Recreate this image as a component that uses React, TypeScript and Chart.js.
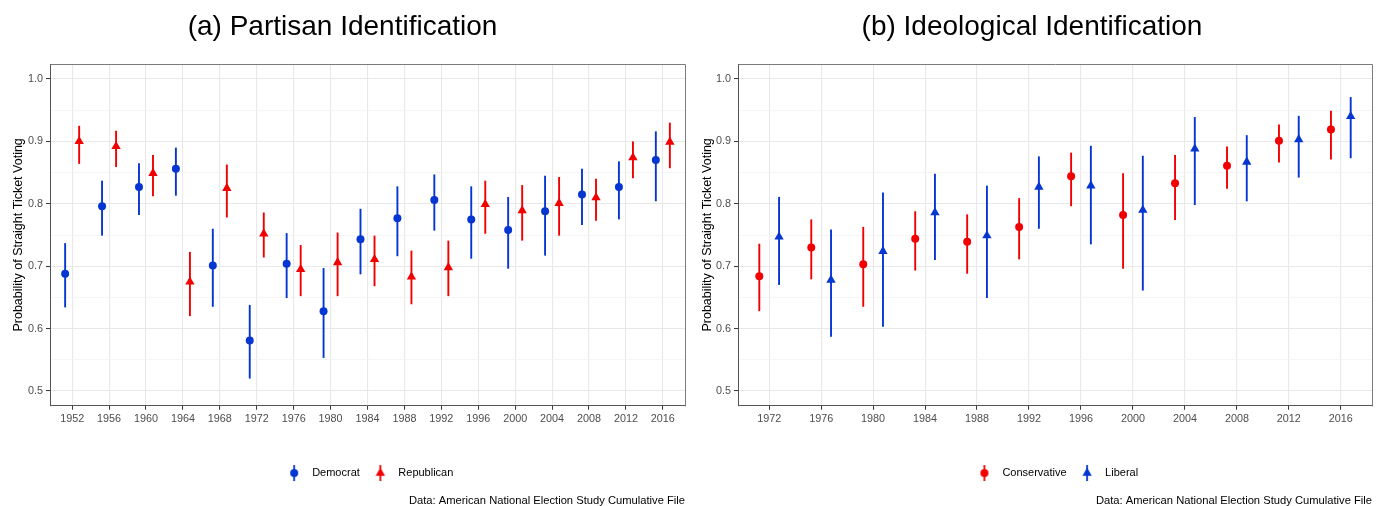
import React, { useEffect, useRef } from "react";
import { Chart, registerables } from "chart.js";

Chart.register(...registerables);

// ---------- Data ----------
const YEARS_A = ["1952", "1956", "1960", "1964", "1968", "1972", "1976", "1980", "1984", "1988", "1992", "1996", "2000", "2004", "2008", "2012", "2016"];
const DEM_EST = [0.688, 0.796, 0.827, 0.856, 0.701, 0.581, 0.704, 0.628, 0.743, 0.777, 0.806, 0.775, 0.758, 0.788, 0.815, 0.827, 0.870];
const DEM_LO = [0.634, 0.749, 0.782, 0.813, 0.635, 0.520, 0.649, 0.553, 0.687, 0.716, 0.757, 0.712, 0.696, 0.717, 0.766, 0.775, 0.804];
const DEM_HI = [0.737, 0.837, 0.865, 0.890, 0.760, 0.638, 0.753, 0.697, 0.792, 0.828, 0.847, 0.828, 0.811, 0.845, 0.856, 0.868, 0.916];
const REP_EST = [0.900, 0.892, 0.849, 0.675, 0.825, 0.752, 0.695, 0.706, 0.711, 0.683, 0.698, 0.799, 0.789, 0.801, 0.810, 0.874, 0.899];
const REP_LO = [0.864, 0.859, 0.812, 0.620, 0.778, 0.714, 0.652, 0.652, 0.668, 0.639, 0.652, 0.752, 0.741, 0.749, 0.773, 0.841, 0.857];
const REP_HI = [0.925, 0.917, 0.878, 0.723, 0.863, 0.786, 0.734, 0.754, 0.749, 0.725, 0.741, 0.837, 0.830, 0.843, 0.840, 0.900, 0.930];

const YEARS_B = ["1972", "1976", "1980", "1984", "1988", "1992", "1996", "2000", "2004", "2008", "2012", "2016"];
const CON_EST = [0.684, 0.730, 0.703, 0.744, 0.739, 0.763, 0.844, 0.782, 0.833, 0.861, 0.901, 0.919];
const CON_LO = [0.628, 0.679, 0.635, 0.693, 0.688, 0.711, 0.796, 0.696, 0.774, 0.824, 0.866, 0.871];
const CON_HI = [0.736, 0.775, 0.763, 0.788, 0.783, 0.809, 0.882, 0.849, 0.878, 0.892, 0.927, 0.949];
const LIB_EST = [0.747, 0.678, 0.724, 0.786, 0.749, 0.827, 0.829, 0.790, 0.888, 0.867, 0.903, 0.940];
const LIB_LO = [0.670, 0.587, 0.603, 0.710, 0.649, 0.760, 0.735, 0.661, 0.798, 0.804, 0.842, 0.873];
const LIB_HI = [0.811, 0.759, 0.818, 0.848, 0.829, 0.876, 0.893, 0.877, 0.939, 0.910, 0.941, 0.971];

const Y_TICKS = [0.5, 0.55, 0.6, 0.65, 0.7, 0.75, 0.8, 0.85, 0.9, 0.95, 1.0];

const RED = "#F20000";
const BLUE = "#0636D2";
const DODGE = 0.19;
const FONT = "'Liberation Sans', Arial, sans-serif";
const CAPTION = "Data: American National Election Study Cumulative File";
const Y_TITLE = "Probability of Straight Ticket Voting";

type Series = { label: string; color: string; shape: "circle" | "triangle"; est: number[]; lo: number[]; hi: number[]; offset: number };

function legendIcon(color: string, shape: "circle" | "triangle"): HTMLCanvasElement {
  const c = document.createElement("canvas");
  c.width = 14;
  c.height = 18;
  const g = c.getContext("2d")!;
  g.strokeStyle = color;
  g.fillStyle = color;
  g.lineWidth = 1.8;
  g.beginPath();
  g.moveTo(7, 1);
  g.lineTo(7, 17);
  g.stroke();
  g.beginPath();
  if (shape === "circle") {
    g.arc(7, 9, 4, 0, Math.PI * 2);
  } else {
    const r = 5.4;
    g.moveTo(7, 9 - r);
    g.lineTo(7 + r * Math.sin((2 * Math.PI) / 3), 9 - r * Math.cos((2 * Math.PI) / 3));
    g.lineTo(7 - r * Math.sin((2 * Math.PI) / 3), 9 - r * Math.cos((2 * Math.PI) / 3));
    g.closePath();
  }
  g.fill();
  return c;
}

const errorBarPlugin = {
  id: "errorBars",
  beforeDatasetsDraw(chart: any) {
    const { ctx, scales, chartArea } = chart;
    const x = scales.x;
    const y = scales.y;
    ctx.save();
    ctx.strokeStyle = "#7A7A7A";
    ctx.lineWidth = 1;
    ctx.beginPath();
    ctx.moveTo(Math.round(chartArea.left) + 0.5, Math.round(chartArea.top) + 0.5);
    ctx.lineTo(Math.round(chartArea.right) + 0.5, Math.round(chartArea.top) + 0.5);
    ctx.lineTo(Math.round(chartArea.right) + 0.5, Math.round(chartArea.bottom) + 0.5);
    ctx.stroke();
    ctx.restore();
    chart.data.datasets.forEach((ds: any) => {
      ctx.save();
      ctx.strokeStyle = ds.borderColor;
      ctx.lineWidth = 1.9;
      ds.data.forEach((p: any) => {
        const px = x.getPixelForValue(p.x);
        ctx.beginPath();
        ctx.moveTo(px, y.getPixelForValue(p.lo));
        ctx.lineTo(px, y.getPixelForValue(p.hi));
        ctx.stroke();
      });
      ctx.restore();
    });
  },
};

function isMajor(v: number) {
  return Math.abs(v * 10 - Math.round(v * 10)) < 1e-6;
}

function makeConfig(title: string, years: string[], series: Series[], yWidth: number, padRight: number, yTitlePad: number): any {
  const n = years.length;
  return {
    type: "scatter",
    data: {
      datasets: series.map((s) => ({
        label: s.label,
        data: s.est.map((v, i) => ({ x: i + s.offset, y: v, lo: s.lo[i], hi: s.hi[i] })),
        backgroundColor: s.color,
        borderColor: s.color,
        borderWidth: 0,
        pointStyle: s.shape,
        pointRadius: s.shape === "circle" ? 4 : 5.4,
        pointHoverRadius: s.shape === "circle" ? 4 : 5.4,
      })),
    },
    options: {
      responsive: false,
      animation: false,
      events: [],
      layout: { padding: { top: 0, bottom: 0, left: 0, right: padRight } },
      scales: {
        x: {
          type: "linear",
          min: -0.6,
          max: n - 1 + 0.6,
          afterBuildTicks: (scale: any) => {
            scale.ticks = years.map((_, i) => ({ value: i }));
          },
          afterFit: (scale: any) => {
            scale.height = 53.8;
          },
          ticks: {
            autoSkip: false,
            maxRotation: 0,
            padding: 3,
            color: "#4D4D4D",
            font: { family: FONT, size: 10.8 },
            callback: (v: number) => years[Math.round(v)] ?? "",
          },
          grid: { color: "#E8E8E8", lineWidth: 1.1, tickLength: 4, tickColor: "#333333", tickWidth: 1 },
          border: { display: true, color: "#555555", width: 1 },
        },
        y: {
          type: "linear",
          min: 0.4764,
          max: 1.024,
          afterBuildTicks: (scale: any) => {
            scale.ticks = Y_TICKS.map((v) => ({ value: v }));
          },
          afterFit: (scale: any) => {
            scale.width = yWidth;
          },
          ticks: {
            autoSkip: false,
            padding: 3,
            color: "#4D4D4D",
            font: { family: FONT, size: 10.8 },
            callback: (v: number) => (isMajor(v) ? v.toFixed(1) : ""),
          },
          grid: {
            color: (c: any) => (c.tick && isMajor(c.tick.value) ? "#E8E8E8" : "#F3F3F3"),
            lineWidth: (c: any) => (c.tick && isMajor(c.tick.value) ? 1.1 : 0.8),
            tickLength: 4,
            tickColor: (c: any) => (c.tick && isMajor(c.tick.value) ? "#333333" : "rgba(0,0,0,0)"),
            tickWidth: 1,
          },
          border: { display: true, color: "#555555", width: 1 },
          title: {
            display: true,
            text: Y_TITLE,
            color: "#000000",
            font: { family: FONT, size: 12.5 },
            padding: { top: yTitlePad, bottom: 0 },
          },
        },
      },
      plugins: {
        tooltip: { enabled: false },
        title: {
          display: true,
          text: title,
          color: "#000000",
          font: { family: FONT, size: 28, weight: "normal" },
          padding: { top: 10, bottom: 20.4 },
        },
        subtitle: {
          display: true,
          text: CAPTION,
          position: "bottom",
          align: "end",
          fullSize: false,
          color: "#000000",
          font: { family: FONT, size: 11.2, weight: "normal" },
          padding: { top: 6, bottom: -2 },
        },
        legend: {
          display: true,
          position: "bottom",
          align: "center",
          fullSize: false,
          labels: {
            usePointStyle: true,
            pointStyleWidth: 25,
            padding: 8,
            color: "#000000",
            font: { family: FONT, size: 11 },
            generateLabels: (chart: any) =>
              chart.data.datasets.map((ds: any, i: number) => ({
                text: ds.label,
                pointStyle: legendIcon(ds.borderColor, ds.pointStyle),
                fillStyle: ds.borderColor,
                strokeStyle: "rgba(0,0,0,0)",
                lineWidth: 0,
                hidden: false,
                datasetIndex: i,
                fontColor: "#000000",
              })),
          },
        },
      },
    },
    plugins: [errorBarPlugin],
  };
}

function Panel(props: { config: any; left: number }) {
  const ref = useRef<HTMLCanvasElement>(null);
  useEffect(() => {
    const chart = new Chart(ref.current!, props.config);
    return () => chart.destroy();
  }, []);
  return (
    <canvas
      ref={ref}
      width={692}
      height={506}
      style={{ position: "absolute", left: props.left, top: 0, width: 692, height: 506 }}
    />
  );
}

export default function App() {
  useEffect(() => {
    document.body.style.margin = "0";
    document.body.style.background = "#ffffff";
  }, []);

  const seriesA: Series[] = [
    { label: "Democrat", color: BLUE, shape: "circle", est: DEM_EST, lo: DEM_LO, hi: DEM_HI, offset: -DODGE },
    { label: "Republican", color: RED, shape: "triangle", est: REP_EST, lo: REP_LO, hi: REP_HI, offset: DODGE },
  ];
  const seriesB: Series[] = [
    { label: "Conservative", color: RED, shape: "circle", est: CON_EST, lo: CON_LO, hi: CON_HI, offset: -DODGE },
    { label: "Liberal", color: BLUE, shape: "triangle", est: LIB_EST, lo: LIB_LO, hi: LIB_HI, offset: DODGE },
  ];

  const configA = makeConfig("(a) Partisan Identification", YEARS_A, seriesA, 50, 7, 11);
  const configB = makeConfig("(b) Ideological Identification", YEARS_B, seriesB, 46, 12, 8);

  return (
    <div style={{ position: "relative", width: 1384, height: 506, overflow: "hidden", background: "#fff" }}>
      <Panel config={configA} left={0} />
      <Panel config={configB} left={692} />
    </div>
  );
}
